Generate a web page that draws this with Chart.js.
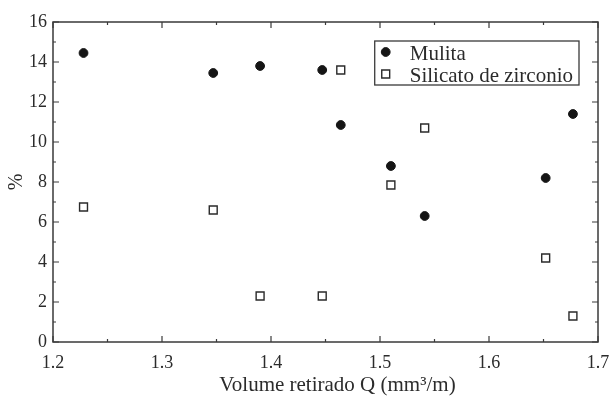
<!DOCTYPE html>
<html>
<head>
<meta charset="utf-8">
<script src="https://cdn.jsdelivr.net/npm/chart.js@4/dist/chart.umd.min.js"></script>
<style>
  html, body { margin: 0; padding: 0; background: #fff; }
  #wrap { width: 613px; height: 399px; }
</style>
</head>
<body>
<div id="wrap"><canvas id="grafico" width="613" height="399"></canvas></div>
<script>
// Datos
const volumen  = [1.228, 1.347, 1.390, 1.447, 1.464, 1.510, 1.541, 1.652, 1.677];
const mulita   = [14.45, 13.45, 13.8, 13.6, 10.85, 8.8, 6.3, 8.2, 11.4];
const silicato = [6.75, 6.6, 2.3, 2.3, 13.6, 7.85, 10.7, 4.2, 1.3];
const nombres  = ['Mulita', 'Silicato de zirconio'];
const tituloX  = 'Volume retirado Q (mm³/m)';
const tituloY  = '%';

const FUENTE = '"Liberation Serif", "DejaVu Serif", serif';
const TINTA = '#2b2b2b';

// Marco y marcas hacia dentro en los cuatro lados
const marcoPlugin = {
  id: 'marco',
  beforeDatasetsDraw(chart) {
    const { ctx, chartArea: a, scales: { x, y } } = chart;
    ctx.save();
    ctx.strokeStyle = '#3a3a3a';
    ctx.lineWidth = 1.5;
    ctx.strokeRect(a.left, a.top, a.right - a.left, a.bottom - a.top);
    ctx.lineWidth = 1.2;
    ctx.beginPath();
    for (let i = 0; i <= 10; i++) {
      const px = x.getPixelForValue(1.2 + i * 0.05);
      const len = i % 2 === 0 ? 6 : 3;
      ctx.moveTo(px, a.bottom); ctx.lineTo(px, a.bottom - len);
      ctx.moveTo(px, a.top);    ctx.lineTo(px, a.top + len);
    }
    for (let v = 0; v <= 16; v++) {
      const py = y.getPixelForValue(v);
      const len = v % 2 === 0 ? 6 : 3;
      ctx.moveTo(a.left, py);  ctx.lineTo(a.left + len, py);
      ctx.moveTo(a.right, py); ctx.lineTo(a.right - len, py);
    }
    ctx.stroke();
    ctx.restore();
  },
  afterDraw(chart) {
    const { ctx, chartArea: a } = chart;
    ctx.save();
    // título del eje x
    ctx.fillStyle = TINTA;
    ctx.font = '21px ' + FUENTE;
    ctx.textAlign = 'center';
    ctx.textBaseline = 'alphabetic';
    ctx.fillText(tituloX, 337.5, 391);

    // leyenda dentro del área
    const x0 = a.right - 19, y0 = a.top + 19;
    ctx.font = '21px ' + FUENTE;
    const ancho = Math.max(...nombres.map(n => ctx.measureText(n).width)) + 41;
    const left = x0 - ancho;
    ctx.strokeStyle = '#3a3a3a';
    ctx.lineWidth = 1.3;
    ctx.strokeRect(left, y0, ancho, 44);
    chart.data.datasets.forEach((ds, i) => {
      const cy = y0 + 11 + i * 22;
      ctx.fillStyle = ds.backgroundColor;
      ctx.strokeStyle = ds.borderColor;
      ctx.lineWidth = ds.borderWidth;
      Chart.helpers.drawPoint(ctx, {
        pointStyle: ds.pointStyle,
        radius: ds.pointRadius,
        borderWidth: ds.borderWidth,
        rotation: 0
      }, left + 11, cy);
      ctx.fillStyle = TINTA;
      ctx.textAlign = 'left';
      ctx.textBaseline = 'middle';
      ctx.fillText(ds.label, left + 35, cy + 2);
    });
    ctx.restore();
  }
};

new Chart(document.getElementById('grafico'), {
  type: 'scatter',
  data: {
    datasets: [
      {
        label: nombres[0],
        data: volumen.map((v, i) => ({ x: v, y: mulita[i] })),
        pointStyle: 'circle',
        pointRadius: 4.4,
        backgroundColor: '#151515',
        borderColor: '#151515',
        borderWidth: 1
      },
      {
        label: nombres[1],
        data: volumen.map((v, i) => ({ x: v, y: silicato[i] })),
        pointStyle: 'rect',
        pointRadius: 5.6,
        backgroundColor: '#ffffff',
        borderColor: '#2a2a2a',
        borderWidth: 1.4
      }
    ]
  },
  options: {
    responsive: false,
    animation: false,
    devicePixelRatio: 1,
    layout: { padding: { top: 22, right: 15, left: 0, bottom: 0 } },
    plugins: {
      legend: { display: false },
      tooltip: { enabled: false }
    },
    scales: {
      x: {
        type: 'linear',
        min: 1.2,
        max: 1.7,
        grid: { display: false, drawTicks: false },
        border: { display: false },
        ticks: {
          stepSize: 0.1,
          padding: 10,
          color: TINTA,
          font: { family: FUENTE, size: 18 },
          maxRotation: 0,
          callback: v => v.toFixed(1)
        },
        afterFit: s => {
          s.height = 57;
          s.paddingLeft = 0;
          s.paddingRight = 0;
        }
      },
      y: {
        min: 0,
        max: 16,
        grid: { display: false, drawTicks: false },
        border: { display: false },
        ticks: {
          stepSize: 2,
          padding: 6,
          color: TINTA,
          font: { family: FUENTE, size: 18 }
        },
        title: {
          display: true,
          text: tituloY,
          color: TINTA,
          font: { family: FUENTE, size: 20 },
          padding: { top: 5, bottom: 0 }
        },
        afterFit: s => { s.width = 53; }
      }
    }
  },
  plugins: [marcoPlugin]
});
</script>
</body>
</html>
